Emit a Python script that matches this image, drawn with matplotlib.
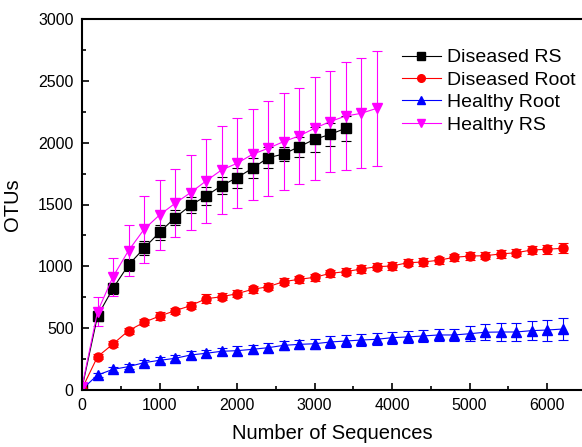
import matplotlib.pyplot as plt
from matplotlib.lines import Line2D
import numpy as np

plt.rcParams["font.family"] = ["Liberation Sans", "DejaVu Sans"]

# sequences sampled
x_root = [0, 200, 400, 600, 800, 1000, 1200, 1400, 1600, 1800, 2000, 2200, 2400, 2600,
          2800, 3000, 3200, 3400, 3600, 3800, 4000, 4200, 4400, 4600, 4800, 5000, 5200,
          5400, 5600, 5800, 6000, 6200]
x_drs = x_root[:18]
x_hrs = x_root[:20]

diseased_rs = [15, 598, 822, 1011, 1146, 1275, 1393, 1493, 1569, 1652, 1717, 1793, 1878,
               1908, 1967, 2027, 2067, 2116]
diseased_rs_err = [0, 40, 45, 50, 55, 60, 60, 65, 75, 70, 80, 80, 85, 60, 80, 100, 90, 100]

diseased_root = [10, 269, 372, 480, 547, 598, 641, 682, 738, 754, 779, 814, 835, 876, 895,
                 911, 943, 957, 978, 997, 1003, 1029, 1035, 1049, 1073, 1083, 1086, 1100,
                 1110, 1132, 1138, 1146]
diseased_root_err = [0, 20, 25, 25, 25, 30, 25, 30, 35, 30, 30, 30, 30, 30, 30, 30, 30, 30,
                     30, 30, 30, 30, 30, 30, 30, 30, 30, 30, 30, 35, 35, 40]

healthy_root = [5, 121, 167, 189, 221, 240, 256, 283, 297, 313, 318, 329, 342, 361, 369,
                374, 388, 396, 404, 410, 423, 429, 437, 445, 445, 455, 467, 469, 469, 480,
                485, 493]
healthy_root_err = [0, 15, 20, 20, 25, 25, 25, 30, 30, 30, 35, 35, 35, 35, 35, 40, 45, 45,
                    45, 50, 50, 50, 50, 50, 50, 60, 65, 70, 75, 75, 85, 90]

healthy_rs = [25, 633, 916, 1127, 1299, 1415, 1509, 1596, 1690, 1779, 1833, 1906, 1954,
              2008, 2054, 2116, 2170, 2215, 2237, 2277]
healthy_rs_err = [0, 115, 155, 205, 270, 283, 275, 305, 340, 355, 365, 366, 385, 390, 390,
                  415, 410, 440, 445, 465]

fig = plt.figure(figsize=(5.82, 4.47), dpi=100)
ax = fig.add_axes([82 / 582, 57 / 447, 500 / 582, 371 / 447])

series = [
    (x_drs, diseased_rs, diseased_rs_err, "black", "s", "Diseased RS"),
    (x_root, diseased_root, diseased_root_err, "red", "o", "Diseased Root"),
    (x_root, healthy_root, healthy_root_err, "blue", "^", "Healthy Root"),
    (x_hrs, healthy_rs, healthy_rs_err, "magenta", "v", "Healthy RS"),
]
handles = []
for xs, ys, es, c, m, lab in series:
    ax.errorbar(xs, ys, yerr=es, color=c, marker=m, markersize=6.5, linewidth=0.8,
                elinewidth=0.8, capsize=3.5, capthick=0.8)
    handles.append(Line2D([], [], color=c, marker=m, markersize=5.5, linewidth=0.8,
                          label=lab))

ax.set_xlim(0, 6450)
ax.set_ylim(0, 3000)
ax.set_xticks(np.arange(0, 7000, 1000))
ax.set_xticks(np.arange(500, 6500, 1000), minor=True)
ax.set_yticks(np.arange(0, 3500, 500))
ax.set_yticks(np.arange(250, 3000, 500), minor=True)
ax.tick_params(direction="in", which="major", length=5, width=1.2, labelsize=11.5, pad=6)
ax.tick_params(direction="in", which="minor", length=3, width=1.2)
ax.spines["right"].set_visible(False)
for s in ["left", "bottom", "top"]:
    ax.spines[s].set_linewidth(1.5)

ax.set_xlabel("Number of Sequences", fontsize=14.5, labelpad=8)
ax.set_ylabel("OTUs", fontsize=14.5, labelpad=12)

ax.legend(handles=handles, loc="upper left", bbox_to_anchor=(392 / 582, 1 - 39 / 447),
          bbox_transform=fig.transFigure, frameon=False, fontsize=14,
          handlelength=2.0, handletextpad=0.35, labelspacing=0.25, borderpad=0)

plt.savefig("out.png", dpi=100)
